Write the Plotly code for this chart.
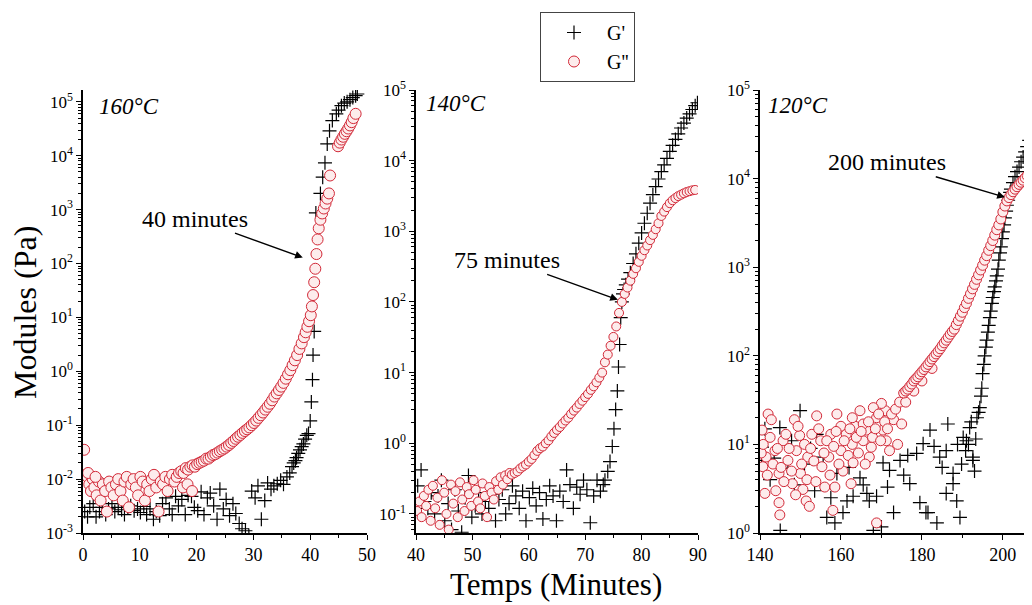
import plotly.graph_objects as go

# ---------------- data (minutes, Pa) ----------------
gpp160 = [
    (0.2, 0.035), (0.5, 0.012), (0.8, 0.011), (1.1, 0.008), (1.4, 0.006), (1.7, 0.010), (2.0, 0.007), (2.4, 0.005),
    (2.8, 0.009), (3.1, 0.004), (3.5, 0.008), (3.9, 0.006), (4.2, 0.0025), (4.6, 0.009), (5.0, 0.007), (5.4, 0.005),
    (5.8, 0.008), (6.2, 0.010), (6.6, 0.006), (7.0, 0.004), (7.3, 0.009), (7.7, 0.011), (8.1, 0.003), (8.5, 0.008),
    (8.9, 0.010), (9.3, 0.007), (9.7, 0.005), (10.1, 0.011), (10.5, 0.009), (10.9, 0.004), (11.3, 0.008), (11.7, 0.006),
    (12.1, 0.010), (12.5, 0.012), (12.9, 0.007), (13.3, 0.0025), (13.7, 0.009), (14.1, 0.008), (14.5, 0.011), (14.9, 0.006),
    (15.3, 0.010), (15.7, 0.012), (16.1, 0.009), (16.5, 0.011), (16.9, 0.013), (17.6, 0.007), (18.4, 0.008), (19.2, 0.006),
    (0.9, 0.013), (2.2, 0.011),
    (17.3, 0.014), (17.7, 0.013), (18.1, 0.016), (18.5, 0.015), (18.9, 0.017), (19.3, 0.018), (19.7, 0.017), (20.1, 0.019),
    (20.5, 0.020), (20.9, 0.021), (21.3, 0.022), (21.7, 0.024), (22.1, 0.024), (22.5, 0.026), (22.9, 0.028), (23.3, 0.029),
    (23.7, 0.031), (24.1, 0.033), (24.5, 0.035), (24.9, 0.037), (25.3, 0.040), (25.7, 0.043), (26.1, 0.047), (26.5, 0.051),
    (26.9, 0.056), (27.3, 0.061), (27.7, 0.066), (28.1, 0.072), (28.5, 0.078), (28.9, 0.084), (29.3, 0.091), (29.7, 0.10),
    (30.1, 0.11), (30.5, 0.122), (30.9, 0.137), (31.3, 0.153), (31.7, 0.172), (32.1, 0.195), (32.5, 0.22), (32.9, 0.25),
    (33.3, 0.29), (33.7, 0.34), (34.1, 0.39), (34.5, 0.45), (34.9, 0.52), (35.3, 0.61), (35.7, 0.73), (36.1, 0.88),
    (36.5, 1.05), (36.9, 1.3), (37.3, 1.6), (37.7, 2.0), (38.1, 2.6), (38.5, 3.3), (38.9, 4.3), (39.2, 5.3),
    (39.5, 6.7), (39.8, 8.5), (40.1, 11), (40.3, 16), (40.5, 26), (40.7, 45), (40.9, 80), (41.1, 150),
    (41.3, 280), (41.5, 450), (41.8, 650), (42.1, 850), (42.4, 1050), (42.7, 1300), (43.0, 1600), (43.3, 2000),
    (43.5, 4300),
    (44.9, 15000), (45.2, 17500), (45.5, 20000), (45.8, 22500), (46.1, 25500), (46.4, 28500), (46.7, 32000),
    (47.0, 36500), (47.3, 42000), (47.6, 50000), (48.0, 60000),
]
gp160 = [
    (0.3, 0.0025), (0.8, 0.002), (1.2, 0.003), (1.8, 0.0035), (2.3, 0.002), (2.9, 0.0025), (3.4, 0.003), (4.0, 0.0022),
    (4.5, 0.0028), (5.1, 0.0035), (5.6, 0.0025), (6.2, 0.003), (6.8, 0.0027), (7.3, 0.0022), (7.9, 0.003), (8.4, 0.0032),
    (9.0, 0.0026), (9.6, 0.0028), (10.1, 0.0024), (10.7, 0.0031), (11.2, 0.0022), (11.8, 0.0028), (12.4, 0.0018),
    (12.9, 0.0025), (13.5, 0.0021), (14.0, 0.0035), (14.6, 0.0045), (15.2, 0.0028), (15.7, 0.0022), (16.3, 0.0048),
    (16.8, 0.0032), (17.4, 0.0042), (18.0, 0.0022), (18.5, 0.005), (19.1, 0.0048), (19.6, 0.003), (20.2, 0.0026),
    (20.8, 0.0058), (21.3, 0.0022), (21.9, 0.0045), (22.4, 0.0055), (23.0, 0.0032), (23.6, 0.0018), (24.1, 0.0065),
    (24.7, 0.0028), (25.2, 0.0042), (25.8, 0.0021), (26.4, 0.0035), (26.9, 0.0023), (27.5, 0.0015), (28.0, 0.0012),
    (28.6, 0.0011), (29.2, 0.0009), (29.7, 0.006), (30.3, 0.0045), (30.8, 0.0075), (31.4, 0.0018), (32.0, 0.004),
    (32.5, 0.0085), (33.1, 0.0065), (33.6, 0.0075), (34.2, 0.0082), (34.8, 0.0095), (35.3, 0.008), (35.9, 0.011),
    (36.4, 0.013),
    (36.8, 0.017), (37.1, 0.02), (37.4, 0.022), (37.6, 0.025), (37.9, 0.03), (38.2, 0.035), (38.5, 0.04), (38.8, 0.045),
    (39.1, 0.055), (39.4, 0.065), (39.7, 0.07), (40.0, 0.12), (40.2, 0.27), (40.4, 0.7), (40.5, 2.0), (40.7, 5.5),
    (41.0, 870), (41.8, 2000), (42.2, 4000), (42.6, 7400), (43.0, 16600), (43.4, 29000), (43.9, 45000), (44.6, 60000),
    (45.0, 70000), (45.5, 85000), (46.0, 95000), (46.5, 100000), (47.0, 110000), (47.5, 120000), (48.0, 130000),
    (48.3, 140000),
]
gpp140 = [
    (40.2, 0.11), (40.6, 0.15), (41.0, 0.09), (41.4, 0.18), (41.8, 0.13), (42.2, 0.22), (42.6, 0.08), (43.0, 0.25),
    (43.4, 0.12), (43.8, 0.17), (44.2, 0.07), (44.6, 0.30), (45.0, 0.20), (45.4, 0.10), (45.8, 0.06), (46.2, 0.26),
    (46.6, 0.14), (47.0, 0.21), (47.4, 0.09), (47.8, 0.28), (48.2, 0.16), (48.6, 0.11), (49.0, 0.24), (49.4, 0.19),
    (49.8, 0.13), (50.2, 0.30), (50.6, 0.22), (51.0, 0.15), (51.4, 0.12), (51.8, 0.27), (52.2, 0.18), (52.6, 0.09),
    (53.0, 0.24), (53.4, 0.20), (53.8, 0.16), (54.2, 0.29), (54.6, 0.22), (55.0, 0.33), (55.4, 0.26), (55.8, 0.35),
    (56.2, 0.31), (56.6, 0.38), (57.0, 0.36),
    (57.5, 0.38), (58.0, 0.40), (58.5, 0.44), (59.0, 0.47), (59.5, 0.50), (60.0, 0.55), (60.5, 0.60), (61.0, 0.68),
    (61.5, 0.78), (62.0, 0.85), (62.5, 0.90), (63.0, 1.0), (63.5, 1.1), (64.0, 1.25), (64.5, 1.4), (65.0, 1.55),
    (65.5, 1.7), (66.0, 1.9), (66.5, 2.1), (67.0, 2.3), (67.5, 2.6), (68.0, 2.9), (68.5, 3.2), (69.0, 3.6),
    (69.5, 4.0), (70.0, 4.5), (70.5, 5.0), (71.0, 5.7), (71.5, 6.4), (72.0, 7.3), (72.5, 8.5), (73.0, 10),
    (73.5, 14), (74.0, 18), (74.5, 24), (75.0, 32), (75.5, 45), (76.0, 70), (76.5, 100), (77.0, 130),
    (77.5, 160), (78.0, 200), (78.5, 250), (79.0, 300), (79.5, 370), (80.0, 450), (80.5, 540), (81.0, 630),
    (81.5, 750), (82.0, 890), (82.5, 1070), (83.0, 1300), (83.5, 1650), (84.0, 1900), (84.5, 2200), (85.0, 2500),
    (85.5, 2750), (86.0, 2950), (86.5, 3150), (87.0, 3300), (87.5, 3450), (88.0, 3600), (88.5, 3700), (89.0, 3800),
    (89.5, 3850),
]
gp140 = [
    (40.3, 0.25), (40.9, 0.42), (41.5, 0.15), (42.1, 0.12), (42.7, 0.20), (43.3, 0.10), (43.9, 0.18), (44.5, 0.30),
    (45.1, 0.08), (45.7, 0.14), (46.3, 0.06), (46.9, 0.22), (47.5, 0.11), (48.1, 0.055), (48.7, 0.17), (49.3, 0.35),
    (49.9, 0.09), (50.5, 0.13), (51.1, 0.20), (51.7, 0.10), (52.3, 0.15), (52.9, 0.12), (53.5, 0.19), (54.1, 0.08),
    (54.7, 0.16), (55.3, 0.22), (55.9, 0.10), (56.5, 0.14), (57.1, 0.25), (57.7, 0.18), (58.3, 0.12), (58.9, 0.21),
    (59.5, 0.08), (60.1, 0.17), (60.7, 0.23), (61.3, 0.13), (61.9, 0.20), (62.5, 0.085), (63.1, 0.16), (63.7, 0.25),
    (64.3, 0.18), (64.9, 0.08), (65.5, 0.21), (66.1, 0.15), (66.7, 0.42), (67.3, 0.26), (67.9, 0.12), (68.5, 0.24),
    (69.1, 0.19), (69.7, 0.30), (70.3, 0.22), (70.9, 0.075), (71.5, 0.18), (72.1, 0.30), (72.7, 0.21), (73.2, 0.26),
    (73.5, 0.30), (74.0, 0.40), (74.4, 0.55), (74.8, 0.9), (75.1, 1.6), (75.4, 3.0), (75.7, 5.5), (75.9, 12),
    (76.1, 25), (76.3, 60), (76.5, 100), (76.7, 130), (76.9, 150), (77.2, 175), (77.6, 210), (78.0, 260),
    (78.5, 350), (79.0, 480), (79.5, 680), (80.0, 950), (80.5, 1300), (81.0, 1800), (81.5, 2500), (82.0, 3300),
    (82.5, 4300), (83.0, 5500), (83.5, 7000), (84.0, 8700), (84.5, 10800), (85.0, 13500), (85.5, 16500),
    (86.0, 20000), (86.5, 24000), (87.0, 29000), (87.5, 34000), (88.0, 40000), (88.5, 46000), (89.0, 53000),
    (89.5, 60000), (89.9, 66000),
]
gpp120 = [
    (140.5, 14.5), (140.7, 5.6), (141.2, 2.8), (142.0, 22), (142.8, 19), (141.5, 7.2), (143.7, 8.5), (144.7, 4.7),
    (144.7, 2.2), (144.9, 1.6), (145.7, 11), (146.9, 6.6), (148.0, 3.6), (148.5, 19), (149.8, 12.6), (149.0, 8.5),
    (150.0, 4.7), (150.6, 3.1), (151.4, 2.3), (152.2, 2.0), (151.8, 7.2), (152.8, 13), (154.0, 21), (155.0, 11),
    (155.3, 5.6), (156.0, 3.3), (157.0, 7.2), (157.5, 13), (158.5, 3.3), (158.0, 1.8), (159.0, 22), (160.0, 16),
    (160.0, 8.5), (160.5, 5.0), (161.3, 13), (162.5, 3.6), (162.8, 10), (163.5, 16), (164.7, 24), (165.5, 11),
    (166.3, 14.5), (167.0, 7.2), (167.5, 9.3), (168.8, 1.3), (168.8, 20), (170.4, 14.5), (171.2, 11), (172.0, 8.5),
    (173.0, 19), (174.0, 10), (171.0, 24), (170.0, 29), (168.0, 26), (165.5, 17), (162.8, 20),
    (140.3, 8), (140.8, 10), (141.8, 4.5), (142.5, 12), (143.2, 6), (143.9, 3), (144.3, 9), (145.2, 5.5),
    (145.9, 3.8), (146.4, 13), (147.2, 9), (147.8, 5), (148.8, 2.7), (149.4, 16), (150.3, 6), (151.0, 10),
    (151.6, 4), (152.5, 9), (153.3, 6.5), (153.8, 3.8), (154.5, 15), (155.8, 8), (156.5, 11), (157.3, 4.5),
    (158.2, 9.5), (158.8, 14), (159.5, 6), (160.8, 11), (161.8, 7.5), (162.2, 15), (163.0, 6.2), (163.8, 12),
    (164.3, 8), (165.0, 14), (166.0, 6), (166.8, 18), (167.8, 12), (168.5, 15), (169.3, 22), (169.8, 11),
    (170.8, 18), (171.5, 15), (172.5, 22), (173.5, 25), (174.5, 30), (175.0, 17), (176.0, 30), (178.0, 40),
    (180.0, 52), (182.5, 72),
    (175.5, 38), (176.0, 40), (176.5, 42), (177.0, 45), (177.5, 48), (178.0, 52), (178.5, 55), (179.0, 58),
    (179.5, 62), (180.0, 66), (180.5, 70), (181.0, 75), (181.5, 80), (182.0, 86), (182.5, 92), (183.0, 98),
    (183.5, 105), (184.0, 112), (184.5, 120), (185.0, 130), (185.5, 140), (186.0, 150), (186.5, 162), (187.0, 175),
    (187.5, 188), (188.0, 200), (188.5, 225), (189.0, 250), (189.5, 280), (190.0, 310), (190.5, 350), (191.0, 390),
    (191.5, 445), (192.0, 500), (192.5, 570), (193.0, 640), (193.5, 730), (194.0, 820), (194.5, 930), (195.0, 1050),
    (195.5, 1200), (196.0, 1350), (196.5, 1550), (197.0, 1750), (197.5, 2000), (198.0, 2300), (198.5, 2650),
    (199.0, 3000), (199.5, 3500), (200.0, 4200), (200.5, 4900), (201.0, 5600), (201.5, 6100), (202.0, 6600),
    (202.5, 7100), (203.0, 7600), (203.5, 8100), (204.0, 8600), (204.5, 9100), (205.0, 9600), (205.5, 10200),
    (206.0, 10800), (206.5, 11400), (207.0, 12000),
]
gp120 = [
    (140.4, 6.6), (140.5, 9.3), (141.2, 15), (144.9, 15.5), (145.0, 1.07), (146.9, 5.4), (149.9, 24), (154.0, 13),
    (155.6, 7.2), (159.0, 4.7), (158.5, 1.3), (156.5, 1.5), (160.5, 1.7), (161.5, 2.3), (163.0, 2.6), (164.7, 4.2),
    (166.4, 2.8), (167.0, 2.3), (168.0, 1.07), (170.0, 1.17), (170.4, 6.2), (172.0, 5.1), (173.0, 1.7), (174.6, 6.6),
    (177.0, 3.6), (178.7, 7.9), (180.3, 10.2), (182.0, 14.5), (181.0, 1.7), (181.5, 1.7), (183.7, 1.3), (184.4, 7.2),
    (186.0, 8.5), (186.4, 17), (187.7, 4.7), (187.7, 3.6), (186.0, 2.8), (188.6, 2.3), (189.4, 1.5), (190.2, 12),
    (191.0, 11), (191.8, 15.5), (192.6, 7.2), (192.6, 6.6), (193.0, 5.0),
    (142.5, 4), (143.5, 7), (147.8, 11), (148.5, 3.5), (151.0, 6), (152.5, 9), (153.5, 3), (157.5, 2.5),
    (162.0, 5.5), (165.5, 3.5), (168.8, 2.6), (171.5, 3.3), (175.5, 4.5), (176.5, 7.5), (179.5, 2.2), (183.0, 9.5),
    (185.0, 5.5), (188.8, 10), (189.8, 6), (190.8, 8.5), (191.5, 10), (192.2, 18), (193.3, 11.5),
    (193.6, 20), (194.0, 23), (194.3, 26), (194.6, 35), (194.8, 43), (195.0, 63), (195.3, 80), (195.5, 100),
    (195.8, 125), (196.0, 150), (196.3, 185), (196.5, 220), (196.8, 270), (197.0, 320), (197.3, 390), (197.5, 455),
    (197.8, 530), (198.0, 600), (198.3, 700), (198.5, 800), (198.8, 950), (199.0, 1200), (199.3, 1450),
    (199.5, 1700), (199.8, 2100), (200.0, 2500), (200.3, 3000), (200.5, 3600), (200.8, 4300), (201.0, 5000),
    (201.3, 5700), (201.5, 6300), (201.8, 7000), (202.0, 7600), (202.5, 9000), (203.0, 10500), (203.5, 12000),
    (204.0, 13500), (204.5, 15500), (205.0, 17500), (205.5, 20000), (206.0, 23000), (206.5, 27000), (207.0, 31000),
]

temps = ["160°C", "140°C", "120°C"]
arrow_labels = ["40 minutes", "75 minutes", "200 minutes"]
series_gp = [gp160, gp140, gp120]
series_gpp = [gpp160, gpp140, gpp120]
x_ticks = [[0, 10, 20, 30, 40, 50], [40, 50, 60, 70, 80, 90], [140, 160, 180, 200]]
y_exps = [[-3, -2, -1, 0, 1, 2, 3, 4, 5], [-1, 0, 1, 2, 3, 4, 5], [0, 1, 2, 3, 4, 5]]
legend_names = ["G'", "G''"]

# ---------------- styling ----------------
OFF = 8                      # page body margin: the figure starts at (8, 8) in the window
W, H = 1032 - OFF, 605 - OFF
SERIF = "Liberation Serif, Times New Roman, serif"
PLOT_TOP, PLOT_BOT = 90, 533  # window pixel rows of plot area


def fx(p):  # window pixel column -> paper x
    return (p - OFF) / W


def fy(p):  # window pixel row -> paper y
    return (PLOT_BOT - p) / (PLOT_BOT - PLOT_TOP)


x_ranges = [[0, 50], [40, 90], [140, 207.2]]
y_ranges = [[-3, 5.22], [-1.27, 5.0], [0, 5.0]]
x_domains = [[fx(83), fx(367)], [fx(416), fx(698)], [fx(760), 1.0]]
x_minor = [5, 5, 10]
circle_sizes = [11, 9, 10]

fig = go.Figure()

for i in range(3):
    xa = "x" if i == 0 else f"x{i+1}"
    ya = "y" if i == 0 else f"y{i+1}"
    gx, gy = zip(*series_gp[i])
    fig.add_trace(go.Scatter(
        x=gx, y=gy, mode="markers", xaxis=xa, yaxis=ya,
        name=legend_names[0], showlegend=(i == 0), legendrank=1,
        marker=dict(symbol="cross-thin", size=10, color="black",
                    line=dict(color="black", width=1.2)),
    ))
    hx, hy = zip(*series_gpp[i])
    fig.add_trace(go.Scatter(
        x=hx, y=hy, mode="markers", xaxis=xa, yaxis=ya,
        name=legend_names[1], showlegend=(i == 0), legendrank=2,
        marker=dict(symbol="circle", size=circle_sizes[i], color="rgb(253,236,236)",
                    line=dict(color="rgb(210,40,55)", width=1)),
    ))

axis_common = dict(showline=True, linecolor="black", linewidth=1.5, showgrid=False, zeroline=False,
                   ticks="outside", ticklen=5, tickwidth=1.2, tickcolor="black", automargin=False,
                   mirror=False)

layout = {}
for i in range(3):
    xk = "xaxis" if i == 0 else f"xaxis{i+1}"
    yk = "yaxis" if i == 0 else f"yaxis{i+1}"
    ya = "y" if i == 0 else f"y{i+1}"
    xa = "x" if i == 0 else f"x{i+1}"
    layout[xk] = dict(axis_common, domain=x_domains[i], range=x_ranges[i], anchor=ya,
                      tickfont=dict(family=SERIF, size=18, color="black"),
                      tickmode="array", tickvals=x_ticks[i], ticktext=[str(v) for v in x_ticks[i]],
                      minor=dict(dtick=x_minor[i], ticks="outside", ticklen=3, tickcolor="black", tickwidth=1))
    exps = y_exps[i]
    minor_vals = [m * 10 ** e for e in range(exps[0] - 1, exps[-1] + 1) for m in range(2, 10)]
    layout[yk] = dict(axis_common, type="log", domain=[0, 1], range=y_ranges[i], anchor=xa,
                      tickfont=dict(family=SERIF, size=17, color="black"),
                      tickmode="array", tickvals=[10.0 ** e for e in exps],
                      ticktext=[f"10<sup>{e}</sup>" for e in exps],
                      minor=dict(tickmode="array", tickvals=minor_vals, ticks="outside", ticklen=3,
                                 tickcolor="black", tickwidth=1))

annotations = [
    dict(text="Modules (Pa)", xref="paper", yref="paper", x=fx(25), y=fy(313), textangle=-90,
         xanchor="center", yanchor="middle",
         showarrow=False, font=dict(family=SERIF, size=32, color="black")),
    dict(text="Temps (Minutes)", xref="paper", yref="paper", x=fx(556), y=fy(584),
         xanchor="center", yanchor="middle",
         showarrow=False, font=dict(family=SERIF, size=31, color="black")),
]
temp_pos = [(97, 106), (424, 104), (766, 105)]
for (tx, tyy), t in zip(temp_pos, temps):
    annotations.append(dict(text=f"<i>{t}</i>", xref="paper", yref="paper", x=fx(tx), y=fy(tyy),
                            xanchor="left", yanchor="middle", showarrow=False,
                            font=dict(family=SERIF, size=23, color="black")))

arrow_tips = [(38.7, 2.11, -108, -39), (75.8, 2.03, -111, -40), (200.5, 3.79, -118, -35)]
for i, ((ax_, ay_, dx, dy), lab) in enumerate(zip(arrow_tips, arrow_labels)):
    xa = "x" if i == 0 else f"x{i+1}"
    ya = "y" if i == 0 else f"y{i+1}"
    annotations.append(dict(text=lab, xref=xa, yref=ya, x=ax_, y=ay_, ax=dx, ay=dy,
                            showarrow=True, arrowhead=2, arrowsize=1.1, arrowwidth=1.4,
                            arrowcolor="black", standoff=0,
                            font=dict(family=SERIF, size=24, color="black")))

fig.update_layout(
    width=W, height=H,
    margin=dict(l=0, r=0, t=PLOT_TOP - OFF, b=H - (PLOT_BOT - OFF), pad=0, autoexpand=False),
    paper_bgcolor="white", plot_bgcolor="white",
    showlegend=True,
    legend=dict(x=fx(540), y=fy(12), xanchor="left", yanchor="top",
                bgcolor="white", bordercolor="#444", borderwidth=1,
                font=dict(family=SERIF, size=20, color="black"),
                itemwidth=56, tracegroupgap=4, entrywidth=60, entrywidthmode="pixels"),
    annotations=annotations,
    **layout,
)

fig.write_html("out.html")
